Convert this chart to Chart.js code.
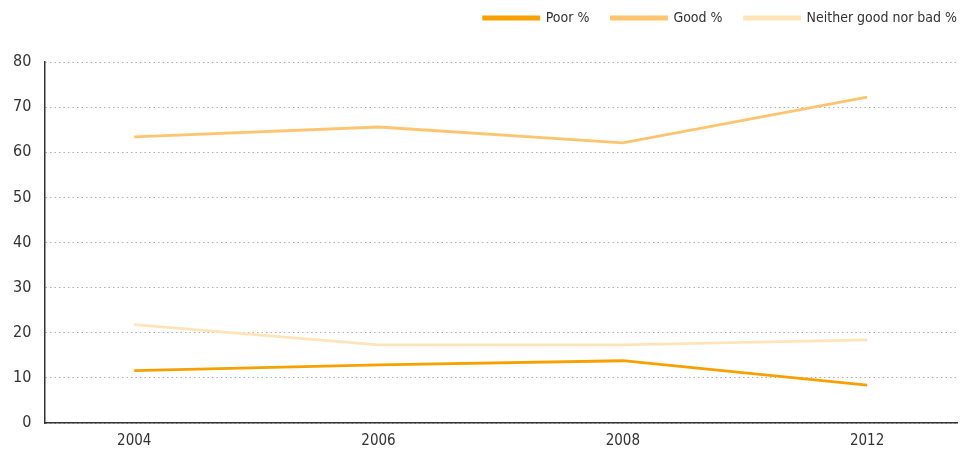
<!DOCTYPE html>
<html>
<head>
<meta charset="utf-8">
<script src="https://cdn.jsdelivr.net/npm/chart.js@4"></script>
<style>
  html, body { margin: 0; padding: 0; background: #fff; }
  #wrap { width: 965px; height: 454px; }
</style>
</head>
<body>
<div id="wrap"><canvas id="chart"></canvas></div>
<script>
// survey years along the bottom
const years = ['2004', '2006', '2008', '2012'];
// share of answers per year
const poor = [11.6, 12.9, 13.8, 8.4];
const good = [63.4, 65.6, 62.1, 72.2];
const neither = [21.8, 17.3, 17.3, 18.4];
const yTicks = [0, 10, 20, 30, 40, 50, 60, 70, 80];

const FONT = '"Liberation Sans Narrow", "DejaVu Sans Condensed", Roboto, sans-serif';

const asPoints = arr => arr.map((v, i) => ({ x: i, y: v }));

// leave some air under the legend row and push it to the right edge
const legendGap = {
    id: 'legendGap',
    beforeInit(chart) {
        const fit = chart.legend.fit;
        chart.legend.fit = function () {
            fit.call(this);
            this.height += 27;
        };
    },
    afterLayout(chart) {
        chart.legend.left += 22;
        chart.legend.right += 22;
    }
};

new Chart(document.getElementById('chart'), {
    type: 'line',
    data: {
        datasets: [
            { label: 'Poor %', data: asPoints(poor), borderColor: '#F6A100', backgroundColor: '#F6A100' },
            { label: 'Good %', data: asPoints(good), borderColor: '#FFC46F', backgroundColor: '#FFC46F' },
            { label: 'Neither good nor bad %', data: asPoints(neither), borderColor: '#FFE4BA', backgroundColor: '#FFE4BA' }
        ]
    },
    options: {
        responsive: true,
        maintainAspectRatio: false,
        animation: false,
        layout: { padding: { left: 0, right: 8, top: -11, bottom: -5 } },
        elements: {
            line: { borderWidth: 2.8, tension: 0 },
            point: { radius: 0, hoverRadius: 0 }
        },
        plugins: {
            legend: {
                position: 'top',
                align: 'end',
                labels: {
                    boxWidth: 55,
                    boxHeight: 2,
                    padding: 22,
                    color: '#333',
                    font: { family: FONT, size: 14 }
                }
            },
            tooltip: { enabled: false }
        },
        scales: {
            x: {
                type: 'linear',
                min: -0.368,
                max: 3.368,
                afterBuildTicks: axis => { axis.ticks = years.map((_, i) => ({ value: i })); },
                ticks: {
                    callback: v => years[v],
                    color: '#333',
                    padding: 9,
                    font: { family: FONT, size: 15 }
                },
                grid: { display: false, drawTicks: false },
                border: { color: '#333', width: 1.5 }
            },
            y: {
                min: 0,
                max: 80,
                afterBuildTicks: axis => { axis.ticks = yTicks.map(v => ({ value: v })); },
                ticks: {
                    color: '#333',
                    padding: 13,
                    font: { family: FONT, size: 16 }
                },
                grid: { color: '#b0b0b0', drawTicks: false, lineWidth: 1 },
                border: { color: '#333', width: 1.5, dash: [1.5, 3] }
            }
        }
    },
    plugins: [legendGap]
});
</script>
</body>
</html>
